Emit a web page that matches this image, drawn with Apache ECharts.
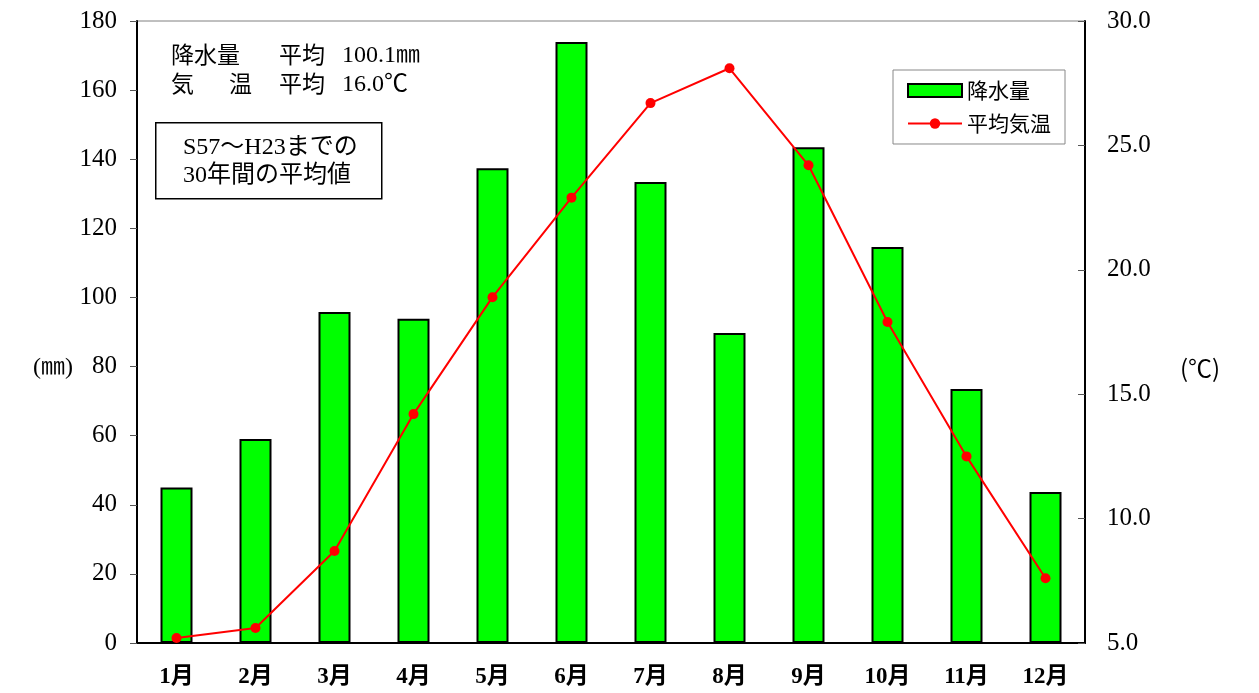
<!DOCTYPE html>
<html><head><meta charset="utf-8">
<script src="https://cdn.jsdelivr.net/npm/echarts@6/dist/echarts.min.js"></script>
<style>html,body{margin:0;padding:0;background:#fff}#c{width:1259px;height:693px}</style>
</head><body><div id="c"></div>
<script>
const categories = ['1月','2月','3月','4月','5月','6月','7月','8月','9月','10月','11月','12月'];
const rainfall = [45, 59, 95.8, 93.8, 137.4, 173.9, 133.4, 89.7, 143.5, 114.6, 73.5, 43.7];
const temperature = [5.2, 5.6, 8.7, 14.2, 18.9, 22.9, 26.7, 28.1, 24.2, 17.9, 12.5, 7.6];
const leftTicks = ['0','20','40','60','80','100','120','140','160','180'];
const rightTicks = ['5.0','10.0','15.0','20.0','25.0','30.0'];
const summaryRows = [['降水量', '平均', '100.1㎜'], ['気', '温', '平均', '16.0℃']];
const noteLines = ['S57～H23までの', '30年間の平均値'];

const FONT = '"Liberation Serif", "Noto Sans CJK JP", serif';
const SANS = '"Noto Sans CJK JP", sans-serif';
const chart = echarts.init(document.getElementById('c'));
const t = (text, left, top, font) => ({ type: 'text', left, top, style: { text, font, fill: '#000' } });
chart.setOption({
  backgroundColor: '#fff',
  animation: false,
  grid: { left: 137, right: 174, top: 21, bottom: 50, show: true, borderColor: '#808080', borderWidth: 1, backgroundColor: 'transparent' },
  legend: {
    right: 194, top: 70, orient: 'vertical', itemGap: 12,
    padding: [10, 14, 10, 14],
    borderColor: '#888', borderWidth: 1, backgroundColor: '#fff',
    itemWidth: 54, itemHeight: 13,
    textStyle: { fontFamily: SANS, fontSize: 21, color: '#000' },
    data: [
      { name: '降水量', icon: 'rect' },
      { name: '平均気温' }
    ]
  },
  xAxis: {
    type: 'category', data: categories,
    axisLine: { lineStyle: { color: '#000', width: 2 } },
    axisTick: { inside: true, length: 7, lineStyle: { color: '#555' } },
    axisLabel: { fontFamily: FONT, fontSize: 23, fontWeight: 600, color: '#000', margin: 23 }
  },
  yAxis: [
    {
      type: 'value', min: 0, max: 180, interval: 20,
      axisLine: { show: true, lineStyle: { color: '#000', width: 2 } },
      axisTick: { show: true, inside: false, length: 7, lineStyle: { color: '#555' } },
      splitLine: { show: false },
      axisLabel: { fontFamily: FONT, fontSize: 25, color: '#000', margin: 20,
        formatter: (v) => leftTicks[Math.round(v / 20)] }
    },
    {
      type: 'value', min: 5, max: 30, interval: 5,
      axisLine: { show: true, lineStyle: { color: '#000', width: 2 } },
      axisTick: { show: true, inside: true, length: 7, lineStyle: { color: '#555' } },
      splitLine: { show: false },
      axisLabel: { fontFamily: FONT, fontSize: 25, color: '#000', margin: 22,
        formatter: (v) => rightTicks[Math.round((v - 5) / 5)] }
    }
  ],
  series: [
    {
      name: '降水量', type: 'bar', yAxisIndex: 0, data: rainfall, barWidth: 32,
      itemStyle: { color: '#00ff00', borderColor: '#000', borderWidth: 2 }
    },
    {
      name: '平均気温', type: 'line', yAxisIndex: 1, data: temperature,
      symbol: 'circle', symbolSize: 10,
      lineStyle: { color: '#ff0000', width: 2 },
      itemStyle: { color: '#ff0000' }
    }
  ],
  graphic: [
    t(summaryRows[0][0], 171, 43, '23px ' + SANS),
    t(summaryRows[0][1], 279, 43, '23px ' + SANS),
    t(summaryRows[0][2], 342, 44, '24px ' + FONT),
    t(summaryRows[1][0], 171, 72, '23px ' + SANS),
    t(summaryRows[1][1], 229, 72, '23px ' + SANS),
    t(summaryRows[1][2], 279, 72, '23px ' + SANS),
    t(summaryRows[1][3], 342, 73, '24px ' + FONT),
    { type: 'rect', left: 155, top: 122, shape: { width: 226, height: 76 }, style: { fill: '#fff', stroke: '#000', lineWidth: 1.5 } },
    { type: 'text', left: 183, top: 134, style: { text: noteLines.join('\n'), font: '24px ' + FONT, lineHeight: 28, fill: '#000' } },
    t('(㎜)', 33, 356, '24px ' + FONT),
    t('(℃)', 1180, 356, '24px ' + SANS)
  ]
});
</script></body></html>
